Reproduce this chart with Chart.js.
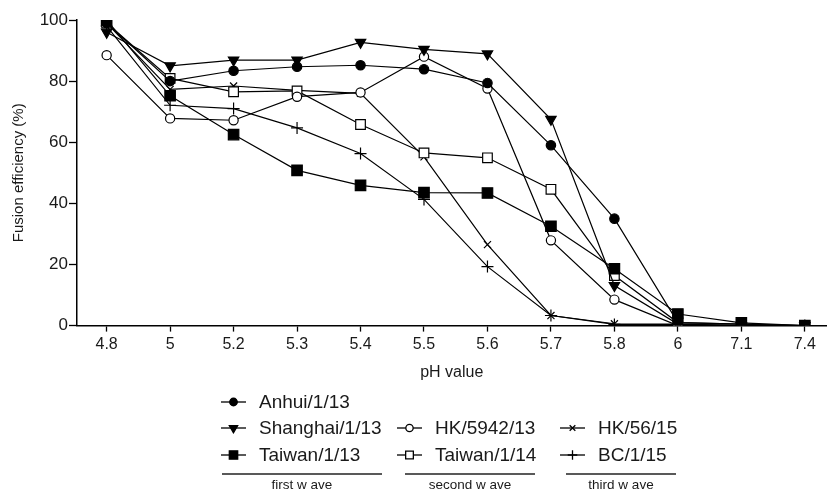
<!DOCTYPE html>
<html>
<head>
<meta charset="utf-8">
<script src="https://cdn.jsdelivr.net/npm/chart.js@4/dist/chart.umd.min.js"></script>
<style>
  html, body { margin: 0; padding: 0; background: #fff; }
  #wrap { width: 835px; height: 491px; }
</style>
</head>
<body>
<div id="wrap"><canvas id="fusionChart" width="835" height="491"></canvas></div>
<script>
// pH values on the x axis (equally spaced categories)
const phLabels = ['4.8', '5', '5.2', '5.3', '5.4', '5.5', '5.6', '5.7', '5.8', '6', '7.1', '7.4'];

// fusion efficiency (%) per strain
const anhui    = [99, 80, 83.4, 84.7, 85.2, 83.9, 79.4, 59, 35, 1, 0.5, 0];
const shanghai = [96, 85, 86.9, 86.9, 92.7, 90.4, 88.9, 67.5, 13.1, 0.5, 0, 0];
const taiwan13 = [100, 75.2, 62.5, 50.8, 45.9, 43.5, 43.4, 32.5, 18.6, 3.8, 0.9, 0];
const hk5942   = [88.5, 67.8, 67.2, 74.9, 76.3, 88, 77.6, 27.9, 8.5, 0, 0, 0];
const taiwan14 = [99, 80.9, 76.5, 76.8, 65.8, 56.5, 54.9, 44.6, 16.4, 1, 0.5, 0];
const hk56     = [99, 77.3, 78.4, 77, 76, 55.2, 26.5, 3.3, 0.6, 0.5, 0, 0];
const bc15     = [98, 72.1, 71, 64.7, 56.3, 41.3, 19.3, 3.3, 0.4, 0.3, 0, 0];

const waveNames = ['first w ave', 'second w ave', 'third w ave'];

const toPoints = arr => arr.map((v, i) => ({ x: i, y: v }));

function series(label, values, style, radius, filled, rotation) {
    return {
        label: label,
        data: toPoints(values),
        borderColor: '#000',
        borderWidth: 1.2,
        pointStyle: style,
        pointRadius: radius,
        pointRotation: rotation || 0,
        pointBackgroundColor: filled ? '#000' : '#fff',
        pointBorderColor: '#000',
        pointBorderWidth: 1.2,
        tension: 0,
        fill: false
    };
}

// legend slots: [column, row]
const legendSlots = [[0, 0], [0, 1], [0, 2], [1, 1], [1, 2], [2, 1], [2, 2]];
const colX = [233.5, 409.5, 572.5];
const rowY = [402, 428, 455];
const groupLines = [[222, 382], [405, 535], [566, 676]];

const legendPlugin = {
    id: 'waveLegend',
    afterDraw(chart) {
        const ctx = chart.ctx;
        ctx.save();
        chart.data.datasets.forEach((ds, i) => {
            const [c, r] = legendSlots[i];
            const cx = colX[c], cy = rowY[r];
            ctx.strokeStyle = '#000';
            ctx.lineWidth = 1.3;
            ctx.beginPath();
            ctx.moveTo(cx - 12.5, cy);
            ctx.lineTo(cx + 12.5, cy);
            ctx.stroke();
            ctx.fillStyle = ds.pointBackgroundColor;
            Chart.helpers.drawPoint(ctx, {
                pointStyle: ds.pointStyle,
                rotation: ds.pointRotation,
                radius: ds.pointRadius * 0.8,
                borderWidth: 1.2
            }, cx, cy);
            ctx.fillStyle = '#1a1a1a';
            ctx.font = '19px "Liberation Sans", Arial, sans-serif';
            ctx.textAlign = 'left';
            ctx.textBaseline = 'middle';
            ctx.fillText(ds.label, cx + 25.5, cy + 1);
        });
        groupLines.forEach((g, i) => {
            ctx.strokeStyle = '#222';
            ctx.lineWidth = 1.3;
            ctx.beginPath();
            ctx.moveTo(g[0], 474);
            ctx.lineTo(g[1], 474);
            ctx.stroke();
            ctx.fillStyle = '#1a1a1a';
            ctx.font = '13.5px "Liberation Sans", Arial, sans-serif';
            ctx.textAlign = 'center';
            ctx.textBaseline = 'middle';
            ctx.fillText(waveNames[i], (g[0] + g[1]) / 2, 485);
        });
        ctx.restore();
    }
};

const ctx = document.getElementById('fusionChart').getContext('2d');
new Chart(ctx, {
    type: 'line',
    data: {
        datasets: [
            series('Anhui/1/13', anhui, 'circle', 4.7, true),
            series('Shanghai/1/13', shanghai, 'triangle', 6, true, 180),
            series('Taiwan/1/13', taiwan13, 'rect', 7.4, true),
            series('HK/5942/13', hk5942, 'circle', 4.6, false),
            series('Taiwan/1/14', taiwan14, 'rect', 6.8, false),
            series('HK/56/15', hk56, 'crossRot', 5, false),
            series('BC/1/15', bc15, 'cross', 6, false)
        ]
    },
    options: {
        responsive: false,
        devicePixelRatio: 1,
        animation: false,
        layout: { padding: { top: 20, right: 0, left: 0, bottom: 105 } },
        plugins: {
            legend: { display: false },
            tooltip: { enabled: false }
        },
        scales: {
            x: {
                type: 'linear',
                min: -0.467,
                max: 11.34,
                afterBuildTicks: scale => {
                    scale.ticks = phLabels.map((_, i) => ({ value: i }));
                },
                ticks: {
                    callback: v => phLabels[v],
                    color: '#1a1a1a',
                    font: { family: '"Liberation Sans", Arial', size: 16 },
                    padding: 3,
                    maxRotation: 0
                },
                grid: { drawOnChartArea: false, color: '#000', tickLength: 6, tickWidth: 1.3 },
                border: { color: '#000', width: 1.5 },
                title: {
                    display: true,
                    text: 'pH value',
                    color: '#1a1a1a',
                    font: { family: '"Liberation Sans", Arial', size: 16 },
                    padding: { top: 6, bottom: 4 }
                }
            },
            y: {
                min: 0,
                max: 100,
                afterFit: scale => { scale.width = 77; },
                ticks: {
                    stepSize: 20,
                    color: '#1a1a1a',
                    font: { family: '"Liberation Sans", Arial', size: 17 },
                    padding: 1
                },
                grid: { drawOnChartArea: false, color: '#000', tickLength: 8, tickWidth: 1.3 },
                border: { color: '#000', width: 1.5 },
                title: {
                    display: true,
                    text: 'Fusion efficiency (%)',
                    color: '#1a1a1a',
                    font: { family: '"Liberation Sans", Arial', size: 15 },
                    padding: { top: 10, bottom: 0 }
                }
            }
        }
    },
    plugins: [legendPlugin]
});
</script>
</body>
</html>
